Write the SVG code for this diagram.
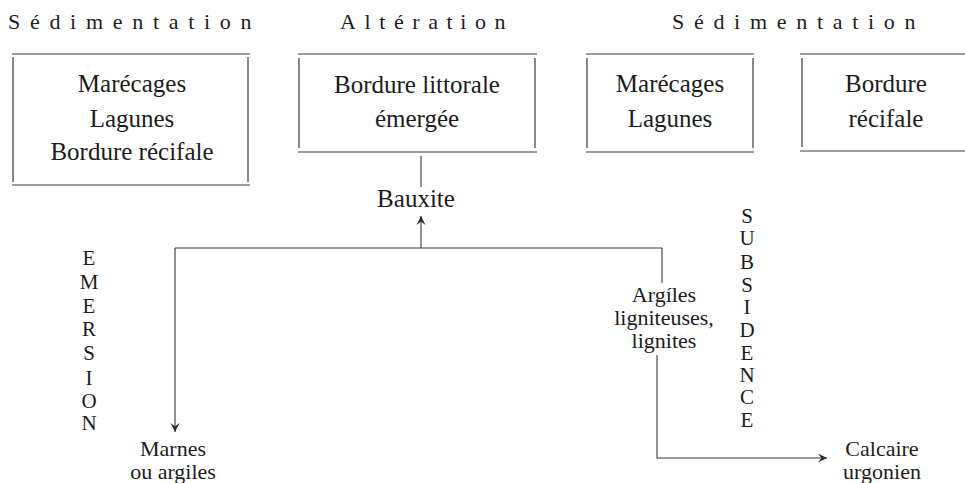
<svg xmlns="http://www.w3.org/2000/svg" width="965" height="483" viewBox="0 0 965 483">
  <defs>
    <marker id="barb" viewBox="-10 -6 12 12" markerWidth="12" markerHeight="12" refX="0" refY="0" orient="auto" markerUnits="userSpaceOnUse">
      <path d="M0,0 L-9,-4.5 L-5.5,0 L-9,4.5 Z" fill="#2a2a2a"/>
    </marker>
  </defs>
  <rect width="965" height="483" fill="#ffffff"/>

  <!-- phase headings, spaced out glyph by glyph -->
  <g id="headings" font-size="22" fill="#1c1c1c">
    <text font-family="Liberation Serif" x="8 29.9 49.4 70.1 85.9 112.7 132.2 152.9 168.7 188.2 204 219.8 240.5" y="29">Sédimentation</text>
    <text font-family="Liberation Serif" x="340 364.5 379.2 393.9 412.3 428.2 446.6 460.3 475 494.6" y="29">Altération</text>
    <text font-family="Liberation Serif" x="672 693.9 713.4 734.1 749.9 776.7 796.2 816.9 832.7 852.2 868 883.8 904.5" y="29">Sédimentation</text>
  </g>

  <!-- environment boxes -->
  <g id="box-sed1" stroke="#3a3a3a" stroke-width="1.2">
    <line x1="12" y1="54" x2="250" y2="54"/>
    <line x1="12" y1="185" x2="250" y2="185"/>
    <line x1="13" y1="57" x2="13" y2="182"/>
    <line x1="248" y1="57" x2="248" y2="182"/>
  </g>
  <g id="box-sed1-text" font-size="25" fill="#1c1c1c" text-anchor="middle">
    <text font-family="Liberation Serif" x="132" y="92">Marécages</text>
    <text font-family="Liberation Serif" x="132" y="127">Lagunes</text>
    <text font-family="Liberation Serif" x="132" y="160">Bordure récifale</text>
  </g>
  <g id="box-alt" stroke="#3a3a3a" stroke-width="1.2">
    <line x1="298" y1="54" x2="537" y2="54"/>
    <line x1="298" y1="152" x2="537" y2="152"/>
    <line x1="299" y1="58" x2="299" y2="148"/>
    <line x1="535" y1="58" x2="535" y2="148"/>
  </g>
  <g id="box-alt-text" font-size="25" fill="#1c1c1c" text-anchor="middle">
    <text font-family="Liberation Serif" x="417" y="93">Bordure littorale</text>
    <text font-family="Liberation Serif" x="417" y="127">émergée</text>
  </g>
  <g id="box-sed2" stroke="#3a3a3a" stroke-width="1.2">
    <line x1="586" y1="54" x2="754" y2="54"/>
    <line x1="586" y1="152" x2="754" y2="152"/>
    <line x1="587" y1="58" x2="587" y2="148"/>
    <line x1="753" y1="58" x2="753" y2="148"/>
  </g>
  <g id="box-sed2-text" font-size="25" fill="#1c1c1c" text-anchor="middle">
    <text font-family="Liberation Serif" x="670" y="92">Marécages</text>
    <text font-family="Liberation Serif" x="670" y="127">Lagunes</text>
  </g>
  <g id="box-sed3" stroke="#3a3a3a" stroke-width="1.2">
    <line x1="800" y1="54" x2="965" y2="54"/>
    <line x1="800" y1="151" x2="965" y2="151"/>
    <line x1="802" y1="58" x2="802" y2="147"/>
  </g>
  <g id="box-sed3-text" font-size="25" fill="#1c1c1c" text-anchor="middle">
    <text font-family="Liberation Serif" x="886" y="92">Bordure</text>
    <text font-family="Liberation Serif" x="886" y="127">récifale</text>
  </g>

  <!-- deposits -->
  <g id="bauxite" font-size="25" fill="#1c1c1c" text-anchor="middle">
    <text font-family="Liberation Serif" x="416" y="207">Bauxite</text>
  </g>
  <g id="marnes" font-size="22" fill="#1c1c1c" text-anchor="middle">
    <text font-family="Liberation Serif" x="173" y="456">Marnes</text>
    <text font-family="Liberation Serif" x="173" y="479">ou argiles</text>
  </g>
  <g id="argiles" font-size="22" fill="#1c1c1c" text-anchor="middle">
    <text font-family="Liberation Serif" x="664" y="302">Argíles</text>
    <text font-family="Liberation Serif" x="664" y="325">ligniteuses,</text>
    <text font-family="Liberation Serif" x="664" y="348">lignites</text>
  </g>
  <g id="calcaire" font-size="22" fill="#1c1c1c" text-anchor="middle">
    <text font-family="Liberation Serif" x="882" y="456">Calcaire</text>
    <text font-family="Liberation Serif" x="882" y="479">urgonien</text>
  </g>

  <!-- vertical side labels -->
  <g id="emersion" font-size="21" fill="#1c1c1c" text-anchor="middle">
    <text font-family="Liberation Serif" x="89" y="265">E</text>
    <text font-family="Liberation Serif" x="89" y="289">M</text>
    <text font-family="Liberation Serif" x="89" y="313">E</text>
    <text font-family="Liberation Serif" x="89" y="336">R</text>
    <text font-family="Liberation Serif" x="89" y="360">S</text>
    <text font-family="Liberation Serif" x="89" y="385">I</text>
    <text font-family="Liberation Serif" x="89" y="408">O</text>
    <text font-family="Liberation Serif" x="89" y="430">N</text>
  </g>
  <g id="subsidence" font-size="21" fill="#1c1c1c" text-anchor="middle">
    <text font-family="Liberation Serif" x="747" y="223">S</text>
    <text font-family="Liberation Serif" x="747" y="245">U</text>
    <text font-family="Liberation Serif" x="747" y="269">B</text>
    <text font-family="Liberation Serif" x="747" y="292">S</text>
    <text font-family="Liberation Serif" x="747" y="314">I</text>
    <text font-family="Liberation Serif" x="747" y="337">D</text>
    <text font-family="Liberation Serif" x="747" y="360">E</text>
    <text font-family="Liberation Serif" x="747" y="382">N</text>
    <text font-family="Liberation Serif" x="747" y="404">C</text>
    <text font-family="Liberation Serif" x="747" y="427">E</text>
  </g>

  <!-- connectors -->
  <g id="connectors" stroke="#3a3a3a" stroke-width="1.1" fill="none">
    <line x1="421" y1="156" x2="421" y2="187"/>
    <line x1="421" y1="248" x2="421" y2="216" marker-end="url(#barb)"/>
    <line x1="175" y1="248" x2="662" y2="248"/>
    <line x1="175" y1="248" x2="175" y2="432" marker-end="url(#barb)"/>
    <line x1="662" y1="248" x2="662" y2="283"/>
    <polyline points="657,355 657,458 827,458" marker-end="url(#barb)"/>
  </g>
</svg>
